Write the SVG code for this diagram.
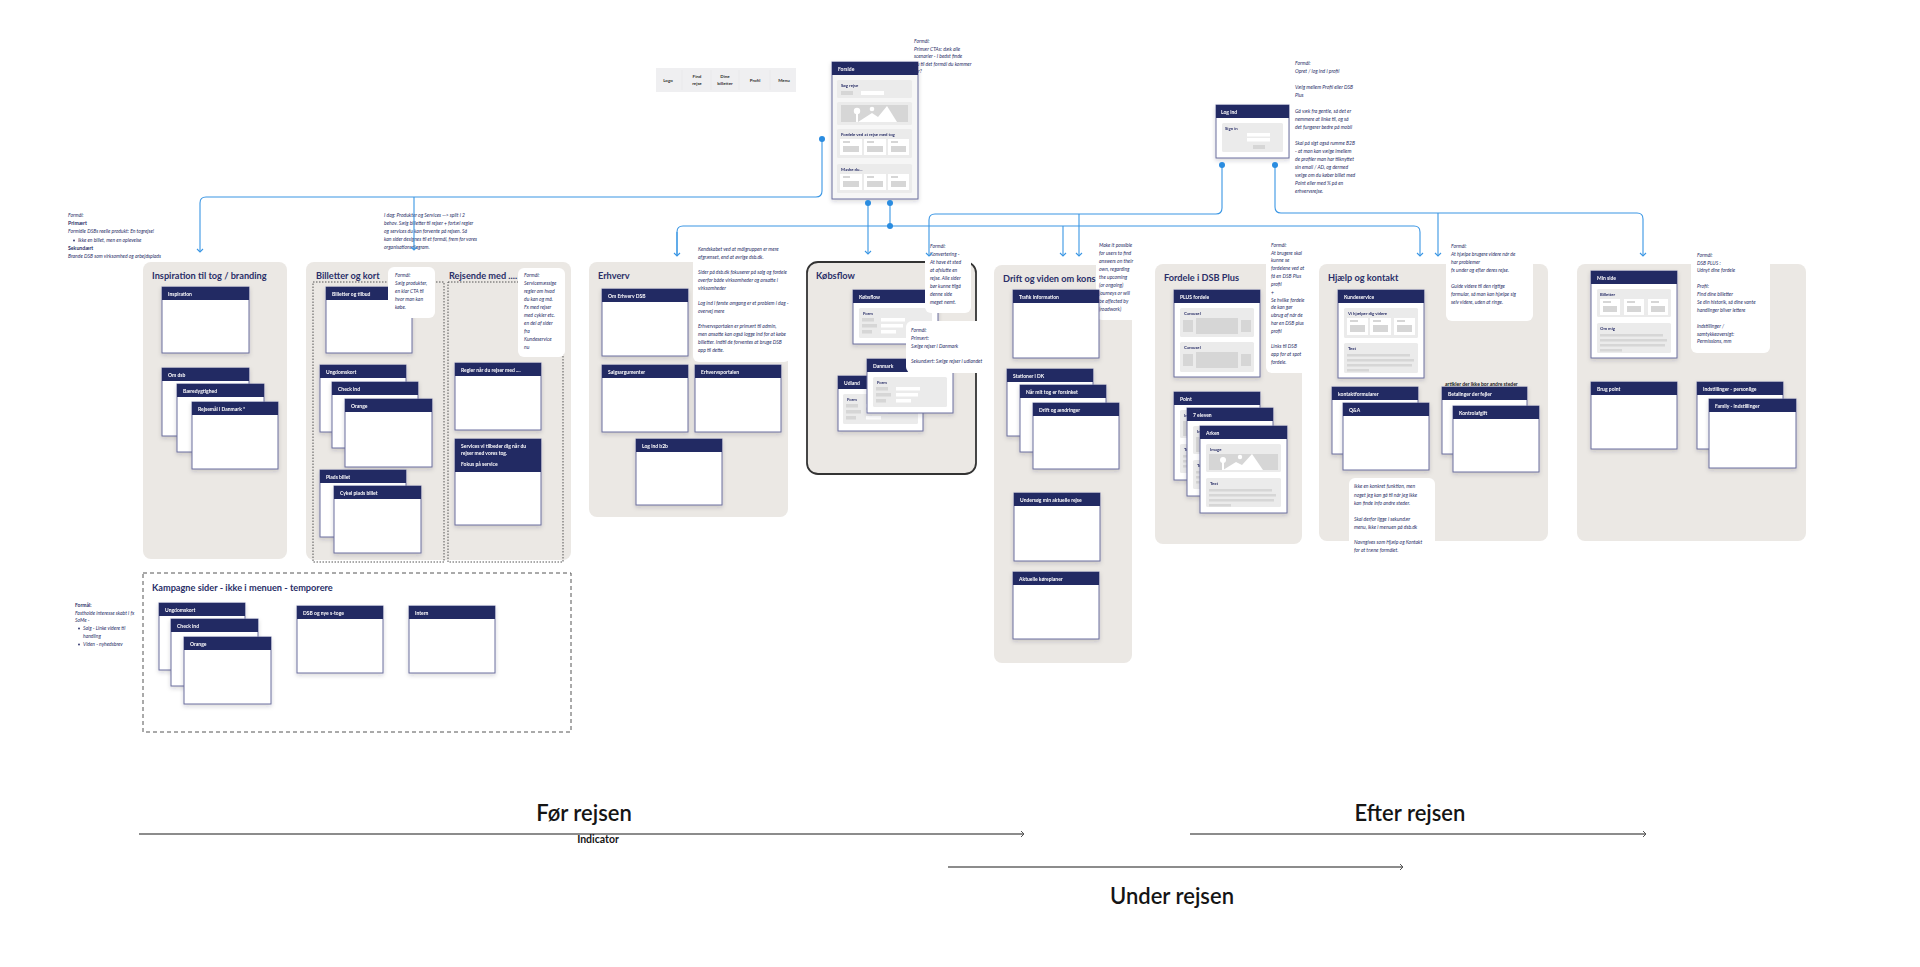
<svg xmlns="http://www.w3.org/2000/svg" width="1920" height="967" viewBox="0 0 1920 967">
<defs>
<style>
text{font-family:Lato,'Liberation Sans',sans-serif}
.panel{fill:#ebe8e4}
.cb{fill:#fff;stroke:#6b6e9e;stroke-width:1}
.ch{fill:#242a63}
.ct{font-size:5px;font-weight:700;fill:#fff}
.pt{font-size:9.2px;font-weight:700;fill:#2a2f68}
.nt{font-size:5px;font-style:italic;fill:#2a2f68}
.nb{fill:#fff}
.wp{fill:#ebebeb}
.wg{fill:#d6d6d6}
.ww{fill:#fff}
.wl{font-size:4.3px;font-weight:700;fill:#2a2f68}
.con{fill:none;stroke:#3a96e4;stroke-width:1.1}
.dot{fill:#2a8ce0}
.tl{fill:none;stroke:#8c8c8c;stroke-width:2}
.big{font-size:22px;font-weight:600;fill:#151515}
.dotbox{fill:none;stroke:#555;stroke-width:1;stroke-dasharray:1.5 1.5}
.nav{font-size:4.5px;font-weight:700;fill:#333;text-anchor:middle}
</style>
<filter id="sh" x="-15%" y="-15%" width="130%" height="140%"><feDropShadow dx="0" dy="2" stdDeviation="2" flood-color="#1c1f40" flood-opacity="0.18"/></filter>
<marker id="ab" markerWidth="8" markerHeight="8" refX="4" refY="4" orient="auto" markerUnits="userSpaceOnUse" viewBox="0 0 8 8"><path d="M1,1 L4,4 L1,7" fill="none" stroke="#3a96e4" stroke-width="1.1"/></marker>
<marker id="ag" markerWidth="8" markerHeight="8" refX="5" refY="4" orient="auto" markerUnits="userSpaceOnUse" viewBox="0 0 8 8"><path d="M2,1 L5,4 L2,7" fill="none" stroke="#555" stroke-width="1"/></marker>
</defs>
<rect width="1920" height="967" fill="#fff"/>

<!-- Top nav -->
<g id="navbar">
<rect x="656" y="68" width="140" height="24" fill="#efeff1"/>
<path d="M682,70V90M711,70V90M739,70V90M770,70V90" stroke="#e4e4e8" stroke-width="0.6"/>
<text class="nav" x="668" y="82">Logo</text>
<text class="nav" x="697" y="78">Find<tspan x="697" y="85">rejse</tspan></text>
<text class="nav" x="725" y="78">Dine<tspan x="725" y="85">billetter</tspan></text>
<text class="nav" x="755" y="82">Profil</text>
<text class="nav" x="784" y="82">Menu</text>
</g>

<!-- Forside -->
<g id="n-forside" filter="url(#sh)">
<rect x="832" y="62" width="86" height="137" fill="#f6f6f6" stroke="#6b6e9e" stroke-width="1"/>
<rect class="ch" x="832" y="62" width="86" height="13"/>
<text class="ct" x="838" y="71">Forside</text>
<rect class="wp" x="837" y="80" width="75" height="18" rx="1.5"/>
<text class="wl" x="841" y="87">Søg rejse</text>
<rect class="wg" x="841" y="91" width="12" height="4"/>
<rect class="ww" x="861" y="91" width="23" height="4"/>
<rect class="wp" x="837" y="102" width="75" height="23" rx="1.5"/>
<rect class="wg" x="841" y="105" width="67" height="17"/>
<path d="M858,122 L872,113 L878,117 L887,106 L897,122 Z" fill="#fff"/>
<circle cx="857" cy="111" r="3.2" fill="#fff"/><rect x="856" y="112" width="2" height="10" fill="#fff"/>
<circle cx="872" cy="109" r="2.3" fill="#fff"/>
<rect class="wp" x="837" y="129" width="75" height="29" rx="1.5"/>
<text class="wl" x="841" y="136">Fordele ved at rejse med tog</text>
<rect class="ww" x="840" y="139" width="22" height="16"/><rect class="wg" x="843" y="141" width="7" height="2"/><rect class="wg" x="843" y="146" width="16" height="6"/>
<rect class="ww" x="864" y="139" width="22" height="16"/><rect class="wg" x="867" y="141" width="7" height="2"/><rect class="wg" x="867" y="146" width="16" height="6"/>
<rect class="ww" x="888" y="139" width="21" height="16"/><rect class="wg" x="891" y="141" width="7" height="2"/><rect class="wg" x="891" y="146" width="15" height="6"/>
<rect class="wp" x="837" y="164" width="75" height="29" rx="1.5"/>
<text class="wl" x="841" y="171">Måske du...</text>
<rect class="ww" x="840" y="174" width="22" height="16"/><rect class="wg" x="843" y="176" width="7" height="2"/><rect class="wg" x="843" y="181" width="16" height="6"/>
<rect class="ww" x="864" y="174" width="22" height="16"/><rect class="wg" x="867" y="176" width="7" height="2"/><rect class="wg" x="867" y="181" width="16" height="6"/>
<rect class="ww" x="888" y="174" width="21" height="16"/><rect class="wg" x="891" y="176" width="7" height="2"/><rect class="wg" x="891" y="181" width="15" height="6"/>
</g>
<text class="nt" x="914" y="43">Formål:<tspan x="914" y="50.5">Primær CTAs: dæk alle</tspan><tspan x="914" y="58">scenarier - I bedst finde</tspan><tspan x="914" y="65.5">nu til det formål du kommer</tspan><tspan x="914" y="73">for?</tspan></text>

<!-- Log ind -->
<g id="n-logind" filter="url(#sh)">
<rect x="1216" y="105" width="73" height="53" fill="#fff" stroke="#6b6e9e" stroke-width="1"/>
<rect class="ch" x="1216" y="105" width="73" height="13"/>
<text class="ct" x="1221" y="114">Log ind</text>
<rect class="wp" x="1222" y="123" width="61" height="29" rx="1.5"/>
<text class="wl" x="1225" y="130">Sign in</text>
<rect class="ww" x="1247" y="133" width="23" height="3.5"/>
<rect class="ww" x="1247" y="138" width="23" height="3.5"/>
<rect class="wg" x="1253" y="145" width="12" height="4"/>
</g>
<g id="note-logind">
<rect class="nb" x="1290" y="60" width="82" height="140"/>
<text class="nt" x="1295" y="65">Formål:<tspan x="1295" y="73">Opret / log ind i profil</tspan><tspan x="1295" y="89">Vælg mellem Profil eller DSB</tspan><tspan x="1295" y="97">Plus</tspan><tspan x="1295" y="113">Gå væk fra gentle, så det er</tspan><tspan x="1295" y="121">nemmere at linke til, og så</tspan><tspan x="1295" y="129">det fungerer bedre på mobil</tspan><tspan x="1295" y="145">Skal på sigt også rumme B2B</tspan><tspan x="1295" y="153">- at man kan vælge imellem</tspan><tspan x="1295" y="161">de profiler man har tilknyttet</tspan><tspan x="1295" y="169">sin email / AD, og dermed</tspan><tspan x="1295" y="177">vælge om du køber billet med</tspan><tspan x="1295" y="185">Point eller med % på en</tspan><tspan x="1295" y="193">erhvervsrejse.</tspan></text>
</g>

<!-- Inspiration -->
<g id="note-inspiration">
<text class="nt" x="68" y="217">Formål:</text>
<text x="68" y="225" font-size="5.2" font-weight="700" fill="#2a2f68">Primært</text>
<text class="nt" x="68" y="233">Formidle DSBs reelle produkt: En togrejse!</text>
<circle cx="74" cy="240.5" r="0.9" fill="#2a2f68"/>
<text class="nt" x="78" y="242">Ikke en billet, men en oplevelse</text>
<text x="68" y="249.5" font-size="5.2" font-weight="700" fill="#2a2f68">Sekundært</text>
<text class="nt" x="68" y="257.5">Brande DSB som virksomhed og arbejdsplads</text>
</g>
<g id="panel-inspiration">
<rect class="panel" x="143" y="262" width="144" height="297" rx="8"/>
<text class="pt" x="152" y="279">Inspiration til tog / branding</text>
</g>
<g id="n-inspiration" filter="url(#sh)"><rect class="cb" x="162" y="287" width="87" height="66"/><rect class="ch" x="162" y="287" width="87" height="13"/><text class="ct" x="168" y="296">Inspiration</text></g>
<g id="n-omdsb" filter="url(#sh)"><rect class="cb" x="162" y="368" width="87" height="68"/><rect class="ch" x="162" y="368" width="87" height="13"/><text class="ct" x="168" y="377">Om dsb</text></g>
<g id="n-baeredygtighed" filter="url(#sh)"><rect class="cb" x="177" y="384" width="87" height="68"/><rect class="ch" x="177" y="384" width="87" height="13"/><text class="ct" x="183" y="393">Bæredygtighed</text></g>
<g id="n-rejsemaal" filter="url(#sh)"><rect class="cb" x="192" y="402" width="86" height="67"/><rect class="ch" x="192" y="402" width="86" height="13"/><text class="ct" x="198" y="411">Rejsemål i Danmark *</text></g>

<!-- Billetter og kort / Rejsende med -->
<g id="note-billetter-top">
<text class="nt" x="384" y="217">I dag: Produkter og Services --&gt; split i 2<tspan x="384" y="225">behov. Sælg billetter til rejser + fortæl regler</tspan><tspan x="384" y="233">og services du kan forvente på rejsen. Så</tspan><tspan x="384" y="241">kan sider designes til et formål, frem for vores</tspan><tspan x="384" y="249">organisationsdiagram.</tspan></text>
</g>
<g id="panel-billetter">
<rect class="panel" x="306" y="262" width="265" height="298" rx="8"/>
<text class="pt" x="316" y="279">Billetter og kort</text>
<text class="pt" x="449" y="279">Rejsende med ....</text>
<rect class="dotbox" x="313" y="282" width="131" height="280"/>
<rect class="dotbox" x="448" y="282" width="115" height="280"/>
</g>
<g id="n-billettertilbud" filter="url(#sh)"><rect class="cb" x="326" y="287" width="86" height="66"/><rect class="ch" x="326" y="287" width="86" height="13"/><text class="ct" x="332" y="296">Billetter og tilbud</text></g>
<g id="note-billetter">
<rect class="nb" x="388" y="267" width="47" height="51" rx="6"/>
<text class="nt" x="395" y="277">Formål:<tspan x="395" y="285">Sælg produkter,</tspan><tspan x="395" y="293">en klar CTA til</tspan><tspan x="395" y="301">hvor man kan</tspan><tspan x="395" y="309">købe.</tspan></text>
</g>
<g id="n-ungdomskort" filter="url(#sh)"><rect class="cb" x="320" y="365" width="86" height="67"/><rect class="ch" x="320" y="365" width="86" height="13"/><text class="ct" x="326" y="374">Ungdomskort</text></g>
<g id="n-checkind" filter="url(#sh)"><rect class="cb" x="332" y="382" width="86" height="66"/><rect class="ch" x="332" y="382" width="86" height="13"/><text class="ct" x="338" y="391">Check ind</text></g>
<g id="n-orange" filter="url(#sh)"><rect class="cb" x="345" y="399" width="87" height="68"/><rect class="ch" x="345" y="399" width="87" height="13"/><text class="ct" x="351" y="408">Orange</text></g>
<g id="n-pladsbillet" filter="url(#sh)"><rect class="cb" x="320" y="470" width="86" height="67"/><rect class="ch" x="320" y="470" width="86" height="13"/><text class="ct" x="326" y="479">Plads billet</text></g>
<g id="n-cykel" filter="url(#sh)"><rect class="cb" x="334" y="486" width="87" height="67"/><rect class="ch" x="334" y="486" width="87" height="13"/><text class="ct" x="340" y="495">Cykel plads billet</text></g>
<g id="note-rejsende">
<rect class="nb" x="518" y="268" width="47" height="89" rx="6"/>
<text class="nt" x="524" y="277">Formål:<tspan x="524" y="285">Servicemæssige</tspan><tspan x="524" y="293">regler om hvad</tspan><tspan x="524" y="301">du kan og må.</tspan><tspan x="524" y="309">Fx med rejser</tspan><tspan x="524" y="317">med cykler etc.</tspan><tspan x="524" y="325">en del af sider</tspan><tspan x="524" y="333">fra</tspan><tspan x="524" y="341">Kundeservice</tspan><tspan x="524" y="349">nu</tspan></text>
</g>
<g id="n-regler" filter="url(#sh)"><rect class="cb" x="455" y="363" width="86" height="67"/><rect class="ch" x="455" y="363" width="86" height="13"/><text class="ct" x="461" y="372">Regler når du rejser med ....</text></g>
<g id="n-services" filter="url(#sh)"><rect class="cb" x="455" y="439" width="86" height="86"/><rect class="ch" x="455" y="439" width="86" height="33"/><text class="ct" x="461" y="448">Services vi tilbeder dig når du<tspan x="461" y="455">rejser med vores tog.</tspan><tspan x="461" y="466">Fokus på service</tspan></text></g>

<!-- Erhverv -->
<g id="panel-erhverv">
<rect class="panel" x="589" y="262" width="199" height="255" rx="8"/>
<text class="pt" x="598" y="279">Erhverv</text>
</g>
<g id="n-omerhverv" filter="url(#sh)"><rect class="cb" x="602" y="289" width="86" height="67"/><rect class="ch" x="602" y="289" width="86" height="13"/><text class="ct" x="608" y="298">Om Erhverv DSB</text></g>
<g id="n-salgsargumenter" filter="url(#sh)"><rect class="cb" x="602" y="365" width="86" height="67"/><rect class="ch" x="602" y="365" width="86" height="13"/><text class="ct" x="608" y="374">Salgsargumenter</text></g>
<g id="n-erhvervsportalen" filter="url(#sh)"><rect class="cb" x="695" y="365" width="86" height="67"/><rect class="ch" x="695" y="365" width="86" height="13"/><text class="ct" x="701" y="374">Erhvervsportalen</text></g>
<g id="n-logindb2b" filter="url(#sh)"><rect class="cb" x="636" y="439" width="86" height="66"/><rect class="ch" x="636" y="439" width="86" height="13"/><text class="ct" x="642" y="448">Log ind b2b</text></g>
<g id="note-erhverv">
<rect class="nb" x="693" y="246" width="97" height="116" rx="6"/>
<text class="nt" x="698" y="251">Kendskabet ved at målgruppen er mere<tspan x="698" y="259">afgrænset, end at øvrige dsb.dk.</tspan><tspan x="698" y="274">Sider på dsb.dk fokuserer på salg og fordele</tspan><tspan x="698" y="282">overfor både virksomheder og ansatte i</tspan><tspan x="698" y="290">virksomheder</tspan><tspan x="698" y="305">Log ind i første omgang er et problem i dag -</tspan><tspan x="698" y="313">overvej mere</tspan><tspan x="698" y="328">Erhvervsportalen er primært til admin,</tspan><tspan x="698" y="336">men ansatte kan også logge ind for at købe</tspan><tspan x="698" y="344">billetter. Indtil de forventes at bruge DSB</tspan><tspan x="698" y="352">app til dette.</tspan></text>
</g>

<!-- Købsflow -->
<g id="panel-koebsflow">
<rect x="807" y="262" width="169" height="212" rx="11" fill="#ebe8e4" stroke="#333" stroke-width="1.8"/>
<text class="pt" x="816" y="279">Købsflow</text>
</g>
<g id="n-koebsflow" filter="url(#sh)">
<rect class="cb" x="853" y="290" width="85" height="54"/><rect class="ch" x="853" y="290" width="85" height="13"/><text class="ct" x="859" y="299">Købsflow</text>
<rect class="wp" x="859" y="308" width="73" height="30" rx="1.5"/><text class="wl" x="863" y="315">Form</text>
<rect class="wg" x="862" y="318" width="12" height="3.5"/><rect class="wg" x="862" y="324" width="15" height="3.5"/><rect class="wg" x="862" y="330" width="10" height="3.5"/>
<rect class="ww" x="881" y="318" width="24" height="3.5"/><rect class="ww" x="881" y="324" width="22" height="3.5"/><rect class="ww" x="881" y="330" width="15" height="3.5"/>
</g>
<g id="n-udland" filter="url(#sh)">
<rect class="cb" x="838" y="376" width="85" height="55"/><rect class="ch" x="838" y="376" width="85" height="13"/><text class="ct" x="844" y="385">Udland</text>
<rect class="wp" x="843" y="394" width="75" height="30" rx="1.5"/><text class="wl" x="847" y="401">Form</text>
<rect class="wg" x="846" y="404" width="12" height="3.5"/><rect class="wg" x="846" y="410" width="15" height="3.5"/><rect class="wg" x="846" y="416" width="10" height="3.5"/>
<rect class="ww" x="866" y="404" width="24" height="3.5"/><rect class="ww" x="866" y="410" width="22" height="3.5"/><rect class="ww" x="866" y="416" width="15" height="3.5"/>
</g>
<g id="n-danmark" filter="url(#sh)">
<rect class="cb" x="867" y="359" width="86" height="54"/><rect class="ch" x="867" y="359" width="86" height="13"/><text class="ct" x="873" y="368">Danmark</text>
<rect class="wp" x="873" y="377" width="74" height="30" rx="1.5"/><text class="wl" x="877" y="384">Form</text>
<rect class="wg" x="876" y="387" width="12" height="3.5"/><rect class="wg" x="876" y="393" width="15" height="3.5"/><rect class="wg" x="876" y="399" width="10" height="3.5"/>
<rect class="ww" x="896" y="387" width="24" height="3.5"/><rect class="ww" x="896" y="393" width="22" height="3.5"/><rect class="ww" x="896" y="399" width="15" height="3.5"/>
</g>
<g id="note-koebsflow">
<rect class="nb" x="925" y="243" width="46" height="70" rx="6"/>
<text class="nt" x="930" y="248">Formål:<tspan x="930" y="256">Konvertering -</tspan><tspan x="930" y="264">At have ét sted</tspan><tspan x="930" y="272">at afslutte en</tspan><tspan x="930" y="280">rejse. Alle sider</tspan><tspan x="930" y="288">bør kunne tilgå</tspan><tspan x="930" y="296">denne side</tspan><tspan x="930" y="304">meget nemt.</tspan></text>
</g>
<g id="note-koebsflow2">
<rect class="nb" x="906" y="321" width="86" height="52" rx="6"/>
<text class="nt" x="911" y="332">Formål:<tspan x="911" y="340">Primært:</tspan><tspan x="911" y="348">Sælge rejser i Danmark</tspan><tspan x="911" y="363">Sekundært: Sælge rejser i udlandet</tspan></text>
</g>

<!-- Drift -->
<g id="panel-drift">
<rect class="panel" x="994" y="265" width="138" height="398" rx="8"/>
<text class="pt" x="1003" y="282">Drift og viden om kons</text>
</g>
<g id="note-drift">
<rect class="nb" x="1096" y="240" width="44" height="80" rx="6"/>
<text class="nt" x="1099" y="247">Make it possible<tspan x="1099" y="255">for users to find</tspan><tspan x="1099" y="263">answers on their</tspan><tspan x="1099" y="271">own, regarding</tspan><tspan x="1099" y="279">the upcoming</tspan><tspan x="1099" y="287">(or ongoing)</tspan><tspan x="1099" y="295">journeys or will</tspan><tspan x="1099" y="303">be affected by</tspan><tspan x="1099" y="311">(roadwork)</tspan></text>
</g>
<g id="n-trafik" filter="url(#sh)"><rect class="cb" x="1013" y="290" width="86" height="68"/><rect class="ch" x="1013" y="290" width="86" height="13"/><text class="ct" x="1019" y="299">Trafik information</text></g>
<g id="n-stationer" filter="url(#sh)"><rect class="cb" x="1007" y="369" width="86" height="67"/><rect class="ch" x="1007" y="369" width="86" height="13"/><text class="ct" x="1013" y="378">Stationer i DK</text></g>
<g id="n-forsinket" filter="url(#sh)"><rect class="cb" x="1020" y="385" width="86" height="67"/><rect class="ch" x="1020" y="385" width="86" height="13"/><text class="ct" x="1026" y="394">Når mit tog er forsinket</text></g>
<g id="n-driftaendringer" filter="url(#sh)"><rect class="cb" x="1033" y="403" width="86" height="66"/><rect class="ch" x="1033" y="403" width="86" height="13"/><text class="ct" x="1039" y="412">Drift og ændringer</text></g>
<g id="n-undersoeg" filter="url(#sh)"><rect class="cb" x="1014" y="493" width="86" height="68"/><rect class="ch" x="1014" y="493" width="86" height="13"/><text class="ct" x="1020" y="502">Undersøg min aktuelle rejse</text></g>
<g id="n-koereplaner" filter="url(#sh)"><rect class="cb" x="1013" y="572" width="86" height="67"/><rect class="ch" x="1013" y="572" width="86" height="13"/><text class="ct" x="1019" y="581">Aktuelle køreplaner</text></g>

<!-- Fordele i DSB Plus -->
<g id="panel-fordele">
<rect class="panel" x="1155" y="264" width="147" height="280" rx="8"/>
<text class="pt" x="1164" y="281">Fordele i DSB Plus</text>
</g>
<g id="note-fordele">
<rect class="nb" x="1266" y="240" width="42" height="133" rx="6"/>
<text class="nt" x="1271" y="247">Formål:<tspan x="1271" y="254.5">At brugere skal</tspan><tspan x="1271" y="262">kunne se</tspan><tspan x="1271" y="270">fordelene ved at</tspan><tspan x="1271" y="278">få en DSB Plus</tspan><tspan x="1271" y="286">profil</tspan><tspan x="1271" y="293.5">+</tspan><tspan x="1271" y="301.5">Se hvilke fordele</tspan><tspan x="1271" y="309">de kan gør</tspan><tspan x="1271" y="317">ubrug af når de</tspan><tspan x="1271" y="325">har en DSB plus</tspan><tspan x="1271" y="333">profil</tspan><tspan x="1271" y="348">Links til DSB</tspan><tspan x="1271" y="356">app for at spot</tspan><tspan x="1271" y="364">fordele.</tspan></text>
</g>
<g id="n-plusfordele" filter="url(#sh)">
<rect class="cb" x="1174" y="290" width="86" height="87"/><rect class="ch" x="1174" y="290" width="86" height="13"/><text class="ct" x="1180" y="299">PLUS fordele</text>
<rect class="wp" x="1180" y="308" width="74" height="29" rx="1.5"/><text class="wl" x="1184" y="315">Carousel</text>
<rect class="wg" x="1183" y="320" width="10" height="12"/><rect class="wg" x="1196" y="318" width="42" height="16"/><rect class="wg" x="1241" y="320" width="10" height="12"/>
<rect class="wp" x="1180" y="342" width="74" height="30" rx="1.5"/><text class="wl" x="1184" y="349">Carousel</text>
<rect class="wg" x="1183" y="354" width="10" height="12"/><rect class="wg" x="1196" y="352" width="42" height="16"/><rect class="wg" x="1241" y="354" width="10" height="12"/>
</g>
<g id="n-point" filter="url(#sh)">
<rect class="cb" x="1174" y="392" width="86" height="88"/><rect class="ch" x="1174" y="392" width="86" height="13"/><text class="ct" x="1180" y="401">Point</text>
<rect class="wp" x="1180" y="410" width="74" height="28" rx="1.5"/><text class="wl" x="1184" y="417">Image</text><rect class="wg" x="1183" y="421" width="68" height="15"/>
<rect class="wp" x="1180" y="444" width="74" height="29" rx="1.5"/><text class="wl" x="1184" y="451">Text</text>
<rect class="wg" x="1183" y="455" width="63" height="2.5"/><rect class="wg" x="1183" y="460" width="67" height="2.5"/><rect class="wg" x="1183" y="465" width="65" height="2.5"/>
</g>
<g id="n-7eleven" filter="url(#sh)">
<rect class="cb" x="1187" y="408" width="86" height="88"/><rect class="ch" x="1187" y="408" width="86" height="13"/><text class="ct" x="1193" y="417">7 eleven</text>
<rect class="wp" x="1193" y="426" width="74" height="28" rx="1.5"/><text class="wl" x="1197" y="433">Image</text><rect class="wg" x="1196" y="437" width="68" height="15"/>
<rect class="wp" x="1193" y="460" width="74" height="29" rx="1.5"/><text class="wl" x="1197" y="467">Text</text>
<rect class="wg" x="1196" y="471" width="63" height="2.5"/><rect class="wg" x="1196" y="476" width="67" height="2.5"/><rect class="wg" x="1196" y="481" width="65" height="2.5"/>
</g>
<g id="n-arken" filter="url(#sh)">
<rect class="cb" x="1200" y="426" width="87" height="87"/><rect class="ch" x="1200" y="426" width="87" height="13"/><text class="ct" x="1206" y="435">Arken</text>
<rect class="wp" x="1206" y="444" width="75" height="28" rx="1.5"/><text class="wl" x="1210" y="451">Image</text>
<rect class="wg" x="1209" y="454" width="69" height="16"/>
<path d="M1223,470 L1236,462 L1242,465 L1252,454 L1263,470 Z" fill="#fff"/>
<circle cx="1223" cy="460" r="3" fill="#fff"/><rect x="1222" y="461" width="2" height="9" fill="#fff"/>
<circle cx="1240" cy="457" r="2.2" fill="#fff"/>
<rect class="wp" x="1206" y="478" width="75" height="29" rx="1.5"/><text class="wl" x="1210" y="485">Text</text>
<rect class="wg" x="1209" y="489" width="63" height="2.5"/><rect class="wg" x="1209" y="494" width="67" height="2.5"/><rect class="wg" x="1209" y="499" width="65" height="2.5"/><rect class="wg" x="1209" y="504" width="22" height="2.5"/>
</g>

<!-- Hjælp og kontakt -->
<g id="panel-hjaelp">
<rect class="panel" x="1319" y="264" width="229" height="277" rx="8"/>
<text class="pt" x="1328" y="281">Hjælp og kontakt</text>
</g>
<g id="note-hjaelp">
<rect class="nb" x="1446" y="240" width="87" height="81" rx="6"/>
<text class="nt" x="1451" y="248">Formål:<tspan x="1451" y="256">At hjælpe brugere videre når de</tspan><tspan x="1451" y="264">har problemer</tspan><tspan x="1451" y="272">fx under og efter deres rejse.</tspan><tspan x="1451" y="288">Guide videre til den rigtige</tspan><tspan x="1451" y="296">formular, så man kan hjælpe sig</tspan><tspan x="1451" y="304">selv videre, uden at ringe.</tspan></text>
</g>
<g id="n-kundeservice" filter="url(#sh)">
<rect class="cb" x="1338" y="290" width="86" height="88"/><rect class="ch" x="1338" y="290" width="86" height="13"/><text class="ct" x="1344" y="299">Kundeservice</text>
<rect class="wp" x="1344" y="308" width="74" height="30" rx="1.5"/><text class="wl" x="1348" y="315">Vi hjælper dig videre</text>
<rect class="ww" x="1347" y="318" width="21" height="17"/><rect class="wg" x="1350" y="320" width="8" height="2"/><rect class="wg" x="1350" y="325" width="15" height="7"/>
<rect class="ww" x="1370" y="318" width="21" height="17"/><rect class="wg" x="1373" y="320" width="8" height="2"/><rect class="wg" x="1373" y="325" width="15" height="7"/>
<rect class="ww" x="1394" y="318" width="21" height="17"/><rect class="wg" x="1397" y="320" width="8" height="2"/><rect class="wg" x="1397" y="325" width="15" height="7"/>
<rect class="wp" x="1344" y="343" width="74" height="30" rx="1.5"/><text class="wl" x="1348" y="350">Text</text>
<rect class="wg" x="1347" y="354" width="63" height="2.5"/><rect class="wg" x="1347" y="359" width="67" height="2.5"/><rect class="wg" x="1347" y="364" width="65" height="2.5"/><rect class="wg" x="1347" y="369" width="22" height="2.5"/>
</g>
<text x="1445" y="386" font-size="5" font-weight="700" fill="#151515">artikler der ikke bor andre steder</text>
<g id="n-kontaktformularer" filter="url(#sh)"><rect class="cb" x="1332" y="387" width="86" height="67"/><rect class="ch" x="1332" y="387" width="86" height="13"/><text class="ct" x="1338" y="396">kontaktformularer</text></g>
<g id="n-qa" filter="url(#sh)"><rect class="cb" x="1343" y="403" width="86" height="67"/><rect class="ch" x="1343" y="403" width="86" height="13"/><text class="ct" x="1349" y="412">Q&amp;A</text></g>
<g id="n-betalinger" filter="url(#sh)"><rect class="cb" x="1442" y="387" width="85" height="67"/><rect class="ch" x="1442" y="387" width="85" height="13"/><text class="ct" x="1448" y="396">Betalinger der fejler</text></g>
<g id="n-kontrolafgift" filter="url(#sh)"><rect class="cb" x="1453" y="406" width="86" height="66"/><rect class="ch" x="1453" y="406" width="86" height="13"/><text class="ct" x="1459" y="415">Kontrolafgift</text></g>
<g id="note-hjaelp2">
<rect class="nb" x="1349" y="478" width="86" height="80" rx="6"/>
<text class="nt" x="1354" y="488">Ikke en konkret funktion, men<tspan x="1354" y="496.5">noget jeg kan gå til når jeg ikke</tspan><tspan x="1354" y="505">kan finde info andre steder.</tspan><tspan x="1354" y="521">Skal derfor ligge i sekundær</tspan><tspan x="1354" y="528.5">menu, ikke i menuen på dsb.dk</tspan><tspan x="1354" y="544">Navngives som Hjælp og Kontakt</tspan><tspan x="1354" y="552">for at træne formålet.</tspan></text>
</g>

<!-- Min side -->
<g id="panel-minside">
<rect class="panel" x="1577" y="264" width="229" height="277" rx="8"/>
</g>
<g id="note-minside">
<rect class="nb" x="1691" y="250" width="79" height="103" rx="6"/>
<text class="nt" x="1697" y="257">Formål:<tspan x="1697" y="264.5">DSB PLUS :</tspan><tspan x="1697" y="272">Udnyt dine fordele</tspan><tspan x="1697" y="288">Profil:</tspan><tspan x="1697" y="296">Find dine billetter</tspan><tspan x="1697" y="304">Se din historik, så dine vante</tspan><tspan x="1697" y="312">handlinger bliver lettere</tspan><tspan x="1697" y="328">Indstillinger /</tspan><tspan x="1697" y="335.5">samtykkeoversigt:</tspan><tspan x="1697" y="343">Permissions, mm</tspan></text>
</g>
<g id="n-minside" filter="url(#sh)">
<rect class="cb" x="1591" y="271" width="86" height="87"/><rect class="ch" x="1591" y="271" width="86" height="13"/><text class="ct" x="1597" y="280">Min side</text>
<rect class="wp" x="1597" y="289" width="74" height="28" rx="1.5"/><text class="wl" x="1600" y="296">Billetter</text>
<rect class="ww" x="1600" y="299" width="20" height="16"/><rect class="wg" x="1603" y="301" width="8" height="2"/><rect class="wg" x="1603" y="306" width="14" height="6"/>
<rect class="ww" x="1624" y="299" width="20" height="16"/><rect class="wg" x="1627" y="301" width="8" height="2"/><rect class="wg" x="1627" y="306" width="14" height="6"/>
<rect class="ww" x="1648" y="299" width="20" height="16"/><rect class="wg" x="1651" y="301" width="8" height="2"/><rect class="wg" x="1651" y="306" width="14" height="6"/>
<rect class="wp" x="1597" y="323" width="74" height="30" rx="1.5"/><text class="wl" x="1600" y="330">Om mig</text>
<rect class="wg" x="1600" y="334" width="63" height="2.5"/><rect class="wg" x="1600" y="339" width="67" height="2.5"/><rect class="wg" x="1600" y="344" width="65" height="2.5"/><rect class="wg" x="1600" y="349" width="22" height="2.5"/>
</g>
<g id="n-brugpoint" filter="url(#sh)"><rect class="cb" x="1591" y="382" width="86" height="67"/><rect class="ch" x="1591" y="382" width="86" height="13"/><text class="ct" x="1597" y="391">Brug point</text></g>
<g id="n-indstillinger" filter="url(#sh)"><rect class="cb" x="1697" y="382" width="86" height="67"/><rect class="ch" x="1697" y="382" width="86" height="13"/><text class="ct" x="1703" y="391">Indstillinger - personlige</text></g>
<g id="n-family" filter="url(#sh)"><rect class="cb" x="1709" y="399" width="87" height="69"/><rect class="ch" x="1709" y="399" width="87" height="13"/><text class="ct" x="1715" y="408">Family - indstillinger</text></g>

<!-- Kampagne -->
<g id="note-kampagne">
<text x="75" y="607" font-size="5" font-weight="700" fill="#2a2f68">Formål:</text>
<text class="nt" x="75" y="614.5" font-style="normal">Fastholde interesse skabt i fx<tspan x="75" y="622">SoMe -</tspan><tspan x="83" y="630">Salg - Linke videre til</tspan><tspan x="83" y="638">handling</tspan><tspan x="83" y="646">Viden - nyhedsbrev</tspan></text>
<circle cx="79" cy="628.5" r="0.9" fill="#2a2f68"/><circle cx="79" cy="644.5" r="0.9" fill="#2a2f68"/>
</g>
<g id="panel-kampagne">
<rect x="143" y="573" width="428" height="159" fill="none" stroke="#555" stroke-width="1" stroke-dasharray="4 3"/>
<text class="pt" x="152" y="591">Kampagne sider - ikke i menuen - temporere</text>
</g>
<g id="n-k-ungdomskort" filter="url(#sh)"><rect class="cb" x="159" y="603" width="86" height="67"/><rect class="ch" x="159" y="603" width="86" height="13"/><text class="ct" x="165" y="612">Ungdomskort</text></g>
<g id="n-k-checkind" filter="url(#sh)"><rect class="cb" x="171" y="619" width="87" height="67"/><rect class="ch" x="171" y="619" width="87" height="13"/><text class="ct" x="177" y="628">Check ind</text></g>
<g id="n-k-orange" filter="url(#sh)"><rect class="cb" x="184" y="637" width="87" height="67"/><rect class="ch" x="184" y="637" width="87" height="13"/><text class="ct" x="190" y="646">Orange</text></g>
<g id="n-k-stoge" filter="url(#sh)"><rect class="cb" x="297" y="606" width="86" height="67"/><rect class="ch" x="297" y="606" width="86" height="13"/><text class="ct" x="303" y="615">DSB og nye s-toge</text></g>
<g id="n-k-intern" filter="url(#sh)"><rect class="cb" x="409" y="606" width="86" height="67"/><rect class="ch" x="409" y="606" width="86" height="13"/><text class="ct" x="415" y="615">Intern</text></g>

<!-- Connectors -->
<g id="connectors">
<path class="con" d="M822,141 V191 Q822,197 816,197 H206 Q200,197 200,203 V252" marker-end="url(#ab)"/>
<path class="con" d="M414,197 V250" marker-end="url(#ab)"/>
<path class="con" d="M868,203 V254" marker-end="url(#ab)"/>
<path class="con" d="M890,203 V226"/>
<path class="con" d="M677,256 V232 Q677,226 683,226 H1414 Q1420,226 1420,232 V256" marker-end="url(#ab)"/>
<path class="con" d="M677,232 V256" marker-end="url(#ab)"/>
<path class="con" d="M1063,226 V256" marker-end="url(#ab)"/>
<path class="con" d="M1222,165 V208 Q1222,214 1216,214 H935 Q929,214 929,220 V256" marker-end="url(#ab)"/>
<path class="con" d="M1079,214 V256" marker-end="url(#ab)"/>
<path class="con" d="M1275,165 V207 Q1275,213 1281,213 H1637 Q1643,213 1643,219 V256" marker-end="url(#ab)"/>
<path class="con" d="M1438,213 V256" marker-end="url(#ab)"/>
<circle class="dot" cx="822" cy="139" r="3"/>
<circle class="dot" cx="868" cy="203" r="3"/>
<circle class="dot" cx="890" cy="203" r="3"/>
<circle class="dot" cx="890" cy="226" r="3"/>
<circle class="dot" cx="1222" cy="165" r="3"/>
<circle class="dot" cx="1275" cy="165" r="3"/>
</g>

<!-- Timeline -->
<g id="timeline">
<line class="tl" x1="139" y1="834" x2="1024" y2="834" marker-end="url(#ag)"/>
<line class="tl" x1="1190" y1="834" x2="1646" y2="834" marker-end="url(#ag)"/>
<line class="tl" x1="948" y1="867" x2="1403" y2="867" marker-end="url(#ag)"/>
<text class="big" x="584" y="821" text-anchor="middle">Før rejsen</text>
<text x="598" y="843" font-size="10.5" font-weight="700" fill="#151515" text-anchor="middle">Indicator</text>
<text class="big" x="1410" y="821" text-anchor="middle">Efter rejsen</text>
<text class="big" x="1172" y="904" text-anchor="middle">Under rejsen</text>
</g>
</svg>
